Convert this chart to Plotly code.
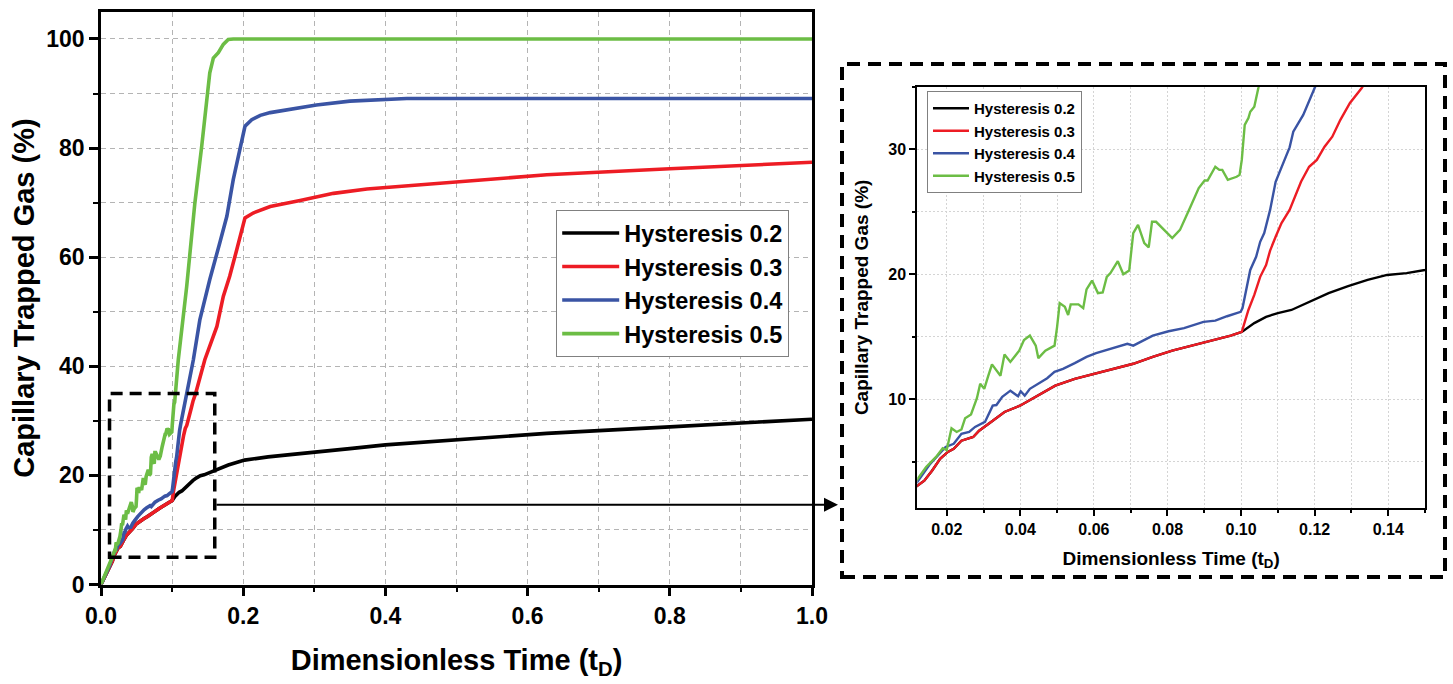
import plotly.graph_objects as go

# values (dimensionless time vs trapped gas %)
red_x = [0, 0.012, 0.0139, 0.016, 0.0182, 0.0203, 0.0219, 0.024, 0.0272, 0.0288,
         0.0314, 0.0357, 0.0399, 0.0442, 0.0495, 0.0548, 0.0601, 0.0654, 0.0707,
         0.076, 0.0813, 0.0866, 0.0919, 0.0972, 0.1002, 0.102, 0.1036, 0.1052,
         0.1068, 0.1079, 0.1094, 0.111, 0.1132, 0.1148, 0.1163, 0.1185, 0.1206,
         0.1227, 0.1248, 0.127, 0.1296, 0.1328, 0.146, 0.163, 0.172, 0.181, 0.191,
         0.2025, 0.214, 0.238, 0.28, 0.327, 0.374, 0.45, 0.5, 0.627, 0.8, 1.0]
red_y = [0, 3.1, 3.5, 4.3, 5.25, 5.8, 6.05, 6.7, 7.0, 7.5,
         8.05, 9.0, 9.5, 10.2, 11.1, 11.65, 12.05, 12.45, 12.85,
         13.4, 13.9, 14.3, 14.7, 15.1, 15.4, 17.15, 18.35, 19.8,
         20.75, 21.9, 23.0, 24.1, 25.15, 26.35, 27.4, 28.6, 29.15,
         30.2, 31.0, 32.35, 33.7, 34.9, 41.2, 47.3, 52.8, 56.5, 61.4,
         67.2, 68.1, 69.3, 70.4, 71.7, 72.5, 73.3, 73.8, 75.1, 76.2, 77.4]

black_x = [0, 0.012, 0.0139, 0.016, 0.0182, 0.0203, 0.0219, 0.024, 0.0272, 0.0288,
           0.0314, 0.0357, 0.0399, 0.0442, 0.0495, 0.0548, 0.0601, 0.0654, 0.0707,
           0.076, 0.0813, 0.0866, 0.0919, 0.0972, 0.1002, 0.1036, 0.1068, 0.11,
           0.1137, 0.1185, 0.1238, 0.1291, 0.1344, 0.1397, 0.145, 0.15, 0.16,
           0.179, 0.202, 0.235, 0.273, 0.3, 0.35, 0.4, 0.5, 0.627, 0.8, 1.0]
black_y = [0, 3.1, 3.5, 4.3, 5.25, 5.8, 6.05, 6.7, 7.0, 7.5,
           8.05, 9.0, 9.5, 10.2, 11.1, 11.65, 12.05, 12.45, 12.85,
           13.4, 13.9, 14.3, 14.7, 15.1, 15.4, 16.1, 16.6, 16.9,
           17.15, 17.8, 18.5, 19.05, 19.55, 19.95, 20.1, 20.35, 21.0,
           21.9, 22.8, 23.4, 23.9, 24.3, 24.9, 25.6, 26.5, 27.7, 28.9, 30.3]

blue_x = [0, 0.012, 0.0155, 0.0197, 0.0219, 0.024, 0.0261, 0.0277, 0.0304, 0.0325,
          0.0335, 0.0351, 0.0373, 0.0394, 0.0401, 0.0412, 0.0426, 0.0447, 0.0473,
          0.0493, 0.0516, 0.0548, 0.058, 0.0606, 0.0643, 0.0691, 0.0707, 0.076,
          0.0803, 0.0845, 0.0898, 0.093, 0.0962, 0.0999, 0.1004, 0.1015, 0.1025,
          0.1041, 0.1052, 0.1063, 0.1079, 0.1094, 0.1105, 0.1121, 0.1132, 0.1142,
          0.1169, 0.12, 0.1299, 0.139, 0.153, 0.167, 0.177, 0.186, 0.1955, 0.2025,
          0.212, 0.224, 0.238, 0.256, 0.303, 0.35, 0.4, 0.43, 1.0]
blue_y = [0, 3.4, 4.85, 6.2, 6.45, 7.25, 7.4, 7.8, 8.2, 9.5,
          9.55, 10.2, 10.7, 10.25, 10.65, 10.3, 10.85, 11.25, 11.7,
          12.2, 12.45, 12.9, 13.4, 13.7, 14.05, 14.45, 14.3, 15.1,
          15.45, 15.7, 16.2, 16.3, 16.65, 17.0, 17.3, 19.0, 20.35,
          21.4, 22.6, 23.3, 25.15, 27.4, 28.2, 29.4, 30.15, 31.4,
          32.75, 34.9, 41.2, 48.5, 55.9, 62.6, 67.5, 74.2, 79.7, 84.0,
          85.2, 86.0, 86.5, 86.9, 87.9, 88.6, 89.0, 89.1, 89.1]

green_x = [0, 0.012, 0.0144, 0.0171, 0.0189, 0.020, 0.0213, 0.0227, 0.024, 0.025,
           0.0266, 0.0282, 0.0291, 0.0302, 0.0312, 0.0323, 0.0346, 0.0357, 0.0373,
           0.0397, 0.041, 0.0426, 0.0442, 0.0449, 0.0468, 0.0493, 0.0500, 0.0507,
           0.0521, 0.053, 0.0537, 0.0558, 0.0571, 0.0580, 0.0595, 0.0611, 0.0624,
           0.0635, 0.0645, 0.0665, 0.0680, 0.0696, 0.0707, 0.0720, 0.0737, 0.0749,
           0.0758, 0.0769, 0.0813, 0.0834, 0.0861, 0.0885, 0.0901, 0.0909, 0.0930,
           0.0941, 0.0949, 0.0964, 0.0988, 0.0996, 0.1002, 0.101, 0.102, 0.1025,
           0.1036, 0.1047, 0.1087, 0.1205, 0.132, 0.1416, 0.1486, 0.153, 0.158,
           0.165, 0.172, 0.179, 0.186, 1.0]
green_y = [0, 3.6, 4.6, 5.4, 6.1, 5.95, 7.7, 7.4, 7.6, 8.5,
           8.8, 10.1, 11.25, 10.85, 11.8, 12.8, 11.9, 13.6, 13.0,
           13.9, 14.75, 15.1, 14.3, 13.3, 13.9, 14.3, 15.8, 17.7,
           17.4, 16.75, 17.6, 17.6, 17.3, 18.8, 19.5, 18.5, 18.55,
           19.8, 20.1, 21.05, 20.0, 20.3, 23.3, 23.95, 22.5, 22.15,
           24.2, 24.2, 22.9, 23.55, 25.3, 26.9, 27.5, 27.5, 28.6,
           28.35, 28.35, 27.55, 27.8, 27.95, 29.15, 31.95, 32.5, 33.0,
           33.4, 34.9, 41.2, 54.6, 69.9, 80.3, 88.3, 93.8, 96.5,
           97.5, 99.0, 99.9, 100, 100]

series = [
    ("Hysteresis 0.2", black_x, black_y, "#000000"),
    ("Hysteresis 0.3", red_x, red_y, "#ed1c24"),
    ("Hysteresis 0.4", blue_x, blue_y, "#3a54a4"),
    ("Hysteresis 0.5", green_x, green_y, "#6cbd45"),
]

FONT = "Liberation Sans"
W, H = 1453, 684


def px_x(p):
    return p / W


def px_y(p):
    return 1 - p / H


fig = go.Figure()

for name, xs, ys, color in series:
    fig.add_trace(go.Scatter(
        x=xs, y=ys, name=name, mode="lines",
        line=dict(color=color, width=3.6),
        xaxis="x", yaxis="y", legend="legend",
    ))

for name, xs, ys, color in series:
    fig.add_trace(go.Scatter(
        x=xs, y=ys, name=name, mode="lines",
        line=dict(color=color, width=2.4),
        xaxis="x2", yaxis="y2", legend="legend2",
    ))

main_grid = dict(showgrid=True, gridcolor="#b4b4b4", gridwidth=1, griddash="5px,4px")
inset_grid = dict(showgrid=True, gridcolor="#d4d4d4", gridwidth=1, griddash="2px,2px")
bold = dict(family=FONT, color="black", weight="bold")

fig.update_layout(
    width=W, height=H,
    margin=dict(l=0, r=0, t=0, b=0, autoexpand=False),
    paper_bgcolor="white", plot_bgcolor="white",
    font=dict(family=FONT, color="black"),
    xaxis=dict(
        domain=[px_x(101), px_x(812)], anchor="y", automargin=False,
        range=[0, 1], dtick=0.2, tick0=0, tickformat=".1f",
        ticks="outside", ticklen=9, tickwidth=2.5, tickcolor="black",
        showline=True, linewidth=2.5, linecolor="black", mirror=True,
        zeroline=False, tickfont=dict(size=23, **bold),
        minor=dict(dtick=0.1, ticks="outside", ticklen=5, tickwidth=2,
                   tickcolor="black", **main_grid),
        title=dict(text="Dimensionless Time (t<sub>D</sub>)",
                   font=dict(size=29, **bold), standoff=22),
        **main_grid,
    ),
    yaxis=dict(
        domain=[px_y(584.5), px_y(11.7)], anchor="x", automargin=False,
        range=[0, 105], dtick=20, tick0=0,
        ticks="outside", ticklen=9, tickwidth=2.5, tickcolor="black",
        showline=True, linewidth=2.5, linecolor="black", mirror=True,
        zeroline=False, tickfont=dict(size=23, **bold),
        minor=dict(dtick=10, ticks="outside", ticklen=5, tickwidth=2,
                   tickcolor="black", **main_grid),
        title=dict(text="Capillary Trapped Gas (%)",
                   font=dict(size=29, **bold), standoff=4),
        **main_grid,
    ),
    # inward major ticks on the top and right edges of the main frame
    xaxis3=dict(
        overlaying="x", side="top", anchor="y", range=[0, 1], dtick=0.2, tick0=0,
        ticks="inside", ticklen=8, tickwidth=2.5, tickcolor="black", automargin=False,
        showticklabels=False, showgrid=False, zeroline=False, showline=False,
    ),
    yaxis3=dict(
        overlaying="y", side="right", anchor="x", range=[0, 105], dtick=20, tick0=0,
        ticks="inside", ticklen=8, tickwidth=2.5, tickcolor="black", automargin=False,
        showticklabels=False, showgrid=False, zeroline=False, showline=False,
    ),
    xaxis2=dict(
        domain=[px_x(917.3), px_x(1425)], anchor="y2", automargin=False,
        range=[0.012, 0.15], dtick=0.02, tick0=0, tickformat=".2f",
        ticks="outside", ticklen=6, tickwidth=1.8, tickcolor="black",
        showline=True, linewidth=2, linecolor="black", mirror=True,
        zeroline=False, tickfont=dict(size=16, **bold),
        minor=dict(dtick=0.01, ticks="outside", ticklen=3, tickwidth=1.5,
                   tickcolor="black", **inset_grid),
        title=dict(text="Dimensionless Time (t<sub>D</sub>)",
                   font=dict(size=19, **bold), standoff=14),
        **inset_grid,
    ),
    yaxis2=dict(
        domain=[px_y(508), px_y(86.7)], anchor="x2", automargin=False,
        range=[1.32, 35], dtick=10, tick0=0,
        ticks="outside", ticklen=6, tickwidth=1.8, tickcolor="black",
        showline=True, linewidth=2, linecolor="black", mirror=True,
        zeroline=False, tickfont=dict(size=16, **bold),
        minor=dict(dtick=5, ticks="outside", ticklen=3, tickwidth=1.5,
                   tickcolor="black", **inset_grid),
        title=dict(text="Capillary Trapped Gas (%)",
                   font=dict(size=19, **bold), standoff=15),
        **inset_grid,
    ),
    legend=dict(
        x=px_x(556), y=px_y(210), xanchor="left", yanchor="top",
        bgcolor="white", bordercolor="#808080", borderwidth=1.2,
        font=dict(size=23.5, **bold), itemwidth=57, tracegroupgap=0,
    ),
    legend2=dict(
        x=px_x(927), y=px_y(91), xanchor="left", yanchor="top",
        bgcolor="white", bordercolor="#808080", borderwidth=1,
        font=dict(size=15, **bold), itemwidth=36, tracegroupgap=0,
    ),
    showlegend=True,
)

# zoom window on the main plot
fig.add_shape(type="rect", xref="x", yref="y", x0=0.012, x1=0.16, y0=5, y1=35,
              line=dict(color="black", width=3.5, dash="12px,7px"))
# dashed frame round the inset
fig.add_shape(type="rect", xref="paper", yref="paper",
              x0=px_x(842), x1=px_x(1445), y0=px_y(577), y1=px_y(64),
              line=dict(color="black", width=4, dash="13px,8px"))
# arrow from the zoom window to the inset
fig.add_annotation(
    x=px_x(838), y=px_y(504.7), xref="paper", yref="paper",
    ax=-(838 - 215), ay=0, axref="pixel", ayref="pixel",
    text="", showarrow=True, arrowhead=2, arrowsize=1.4, arrowwidth=2,
    arrowcolor="black",
)

fig.write_html("out.html", config={"displayModeBar": False},
               post_script="document.body.style.margin='0';")
